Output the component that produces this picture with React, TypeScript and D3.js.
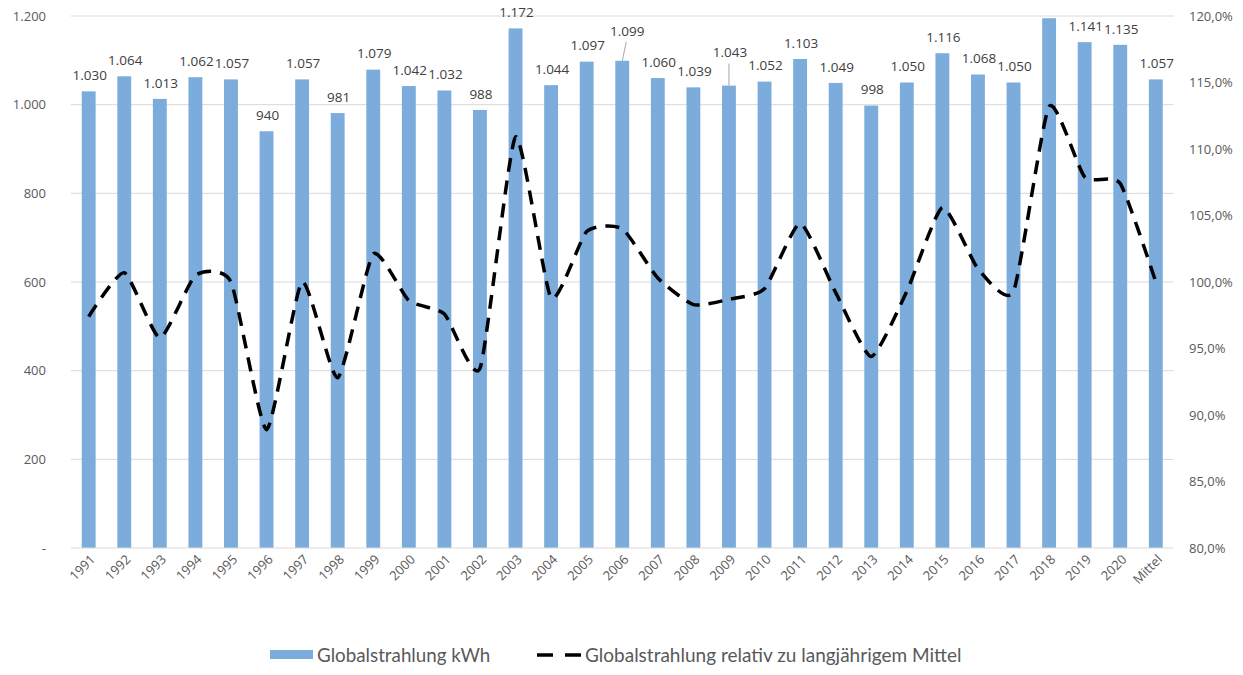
import React from "react";
import * as d3 from "d3";

const categories = ["1991","1992","1993","1994","1995","1996","1997","1998","1999","2000","2001","2002","2003","2004","2005","2006","2007","2008","2009","2010","2011","2012","2013","2014","2015","2016","2017","2018","2019","2020","Mittel"];
const radiation = [1030,1064,1013,1062,1057,940,1057,981,1079,1042,1032,988,1172,1044,1097,1099,1060,1039,1043,1052,1103,1049,998,1050,1116,1068,1050,1195,1141,1135,1057];
const showLabel = [true,true,true,true,true,true,true,true,true,true,true,true,true,true,true,true,true,true,true,true,true,true,true,true,true,true,true,false,true,true,true];
const relative = [97.4,100.7,95.8,100.5,100.0,88.9,100.0,92.8,102.1,98.6,97.6,93.5,110.9,98.8,103.8,104.0,100.3,98.3,98.7,99.5,104.4,99.2,94.4,99.3,105.6,101.0,99.3,113.2,107.9,107.4,100.0];
const leftTicks = [0,200,400,600,800,1000,1200];
const rightTicks = [80,85,90,95,100,105,110,115,120];

const W = 1243, H = 675;
const X0 = 70.9, X1 = 1173.6, Y0 = 548, Y1 = 16;

const fmtNum = (v: number) => (v === 0 ? "-" : d3.format(",")(v).replace(/,/g, "."));
const fmtPct = (v: number) => v.toFixed(1).replace(".", ",") + "%";

export default function App() {
  const x = d3.scaleBand<string>().domain(categories).range([X0, X1]).paddingInner(0.61).paddingOuter(0.305);
  const yL = d3.scaleLinear().domain([0, 1200]).range([Y0, Y1]);
  const yR = d3.scaleLinear().domain([80, 120]).range([Y0, Y1]);
  const cx = (c: string) => (x(c) as number) + x.bandwidth() / 2;
  const line = d3.line<number>()
    .x((_, i) => cx(categories[i]))
    .y((d) => yR(d))
    .curve(d3.curveCardinal.tension(0.45));
  const tickFont = "'Open Sans', 'Noto Sans', sans-serif";
  const labelShift: Record<string, number> = { "2006": 14, "2009": 17 };
  return (
    <div style={{ position: "absolute", left: 0, top: 0 }}>
      <svg width={W} height={H} style={{ display: "block", background: "#fff" }}>
        {leftTicks.slice(1).map((t) => (
          <line key={"g" + t} x1={X0} x2={X1} y1={yL(t)} y2={yL(t)} stroke="#d9d9d9" strokeWidth={1} />
        ))}
        {radiation.map((v, i) => (
          <rect key={"b" + i} x={x(categories[i])} y={yL(v)} width={x.bandwidth()} height={Y0 - yL(v)} fill="#7cacdc" />
        ))}
        <line x1={X0} x2={X1} y1={Y0} y2={Y0} stroke="#d9d9d9" strokeWidth={1} />
        {leftTicks.map((t) => (
          <text key={"l" + t} x={46} y={yL(t)} dy="0.35em" textAnchor="end" fontFamily={tickFont} fontSize={13} fill="#595959">{fmtNum(t)}</text>
        ))}
        {rightTicks.map((t) => (
          <text key={"r" + t} x={1189} y={yR(t)} dy="0.35em" textAnchor="start" fontFamily={tickFont} fontSize={13} fill="#595959">{fmtPct(t)}</text>
        ))}
        {categories.map((c) => (
          <text key={"x" + c} transform={`translate(${cx(c) + 4},${557}) rotate(-45)`} textAnchor="end" dy="0.35em" fontFamily={tickFont} fontSize={13} fill="#595959">{c}</text>
        ))}
        <path d={line(relative) || ""} fill="none" stroke="#000" strokeWidth={3.5} strokeDasharray="14 9" />
        {radiation.map((v, i) => {
          if (!showLabel[i]) return null;
          const c = categories[i];
          const shift = labelShift[c] || 0;
          const ly = yL(v) - 16 - shift;
          const dx = c === "2006" ? 5 : 1;
          return (
            <g key={"dl" + i}>
              {shift > 0 && (
                <line x1={cx(c) + (c === "2006" ? 4 : 0)} y1={ly + 11} x2={cx(c)} y2={yL(v)} stroke="#a6a6a6" strokeWidth={1} />
              )}
              <text x={cx(c) + dx} y={ly} dy="0.35em" textAnchor="middle" fontFamily={tickFont} fontSize={13.5} fill="#404040">{fmtNum(v)}</text>
            </g>
          );
        })}
        <rect x={270} y={650} width={43} height={9} fill="#7cacdc" />
        <text x={317} y={655} dy="0.35em" fontFamily="Lato, 'Noto Sans', sans-serif" fontSize={18.8} fill="#595959">Globalstrahlung kWh</text>
        <line x1={537} x2={581} y1={655} y2={655} stroke="#000" strokeWidth={3.5} strokeDasharray="16 12" />
        <text x={585} y={655} dy="0.35em" fontFamily="Lato, 'Noto Sans', sans-serif" fontSize={19} fill="#595959">Globalstrahlung relativ zu langjährigem Mittel</text>
      </svg>
    </div>
  );
}
